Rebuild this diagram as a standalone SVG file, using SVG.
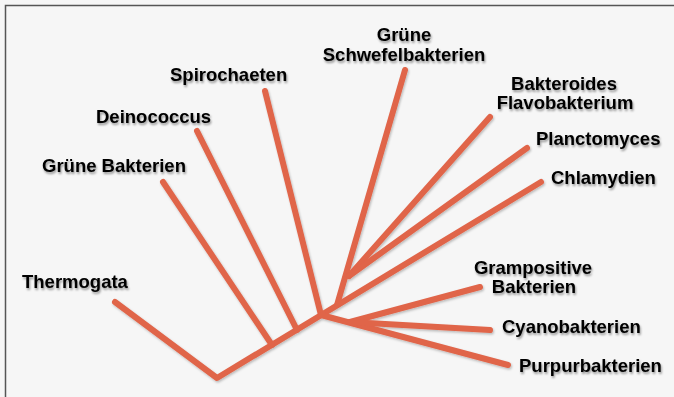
<svg xmlns="http://www.w3.org/2000/svg" width="674" height="397" viewBox="0 0 674 397">
<defs>
<filter id="ts" x="-10%" y="-30%" width="120%" height="160%">
<feDropShadow dx="1" dy="2" stdDeviation="1.3" flood-color="#000" flood-opacity="0.4"/>
</filter>
<filter id="ls" x="-10%" y="-10%" width="120%" height="120%">
<feDropShadow dx="1" dy="1.5" stdDeviation="1" flood-color="#000" flood-opacity="0.25"/>
</filter>
</defs>
<style>
.lbl{font-family:"Liberation Sans",Arial,Helvetica,sans-serif;font-weight:bold;font-size:18.5px;fill:#000}
.c{text-anchor:middle}
.br{stroke:#e0654a;stroke-width:6;stroke-linecap:round;stroke-linejoin:round;fill:none}
</style>
<rect x="0" y="0" width="674" height="397" fill="#f6f6f6"/>
<path d="M5.5,397 V5.5 H674" fill="none" stroke="#555" stroke-width="1.5"/>
<g id="connectors" class="br" filter="url(#ls)">
<polyline points="115,302 217,378 541,182"/>
<line x1="272" y1="345" x2="163" y2="182"/>
<line x1="297" y1="330" x2="197" y2="131"/>
<line x1="321" y1="315" x2="265" y2="91"/>
<line x1="337" y1="305" x2="405" y2="70"/>
<line x1="349" y1="276" x2="490" y2="117"/>
<line x1="349" y1="276" x2="527" y2="148"/>
<line x1="321" y1="315" x2="508" y2="365"/>
<line x1="350" y1="322" x2="480" y2="287"/>
<line x1="350" y1="322" x2="490" y2="330"/>
</g>
<g filter="url(#ts)">
<g id="thermogata"><text class="lbl" x="22" y="288">Thermogata</text></g>
<g id="gruene-bakterien"><text class="lbl" x="42" y="172">Grüne Bakterien</text></g>
<g id="deinococcus"><text class="lbl" x="96" y="123">Deinococcus</text></g>
<g id="spirochaeten"><text class="lbl" x="170" y="81">Spirochaeten</text></g>
<g id="gruene-schwefelbakterien"><text class="lbl c" x="404" y="41">Grüne</text><text class="lbl c" x="404" y="61">Schwefelbakterien</text></g>
<g id="bakteroides"><text class="lbl c" x="564" y="90">Bakteroides</text><text class="lbl c" x="565" y="109">Flavobakterium</text></g>
<g id="planctomyces"><text class="lbl" x="536" y="145">Planctomyces</text></g>
<g id="chlamydien"><text class="lbl" x="551" y="184">Chlamydien</text></g>
<g id="grampositive"><text class="lbl c" x="533" y="274">Grampositive</text><text class="lbl c" x="534" y="293">Bakterien</text></g>
<g id="cyanobakterien"><text class="lbl" x="502" y="333">Cyanobakterien</text></g>
<g id="purpurbakterien"><text class="lbl" x="519" y="372">Purpurbakterien</text></g>
</g>
</svg>
